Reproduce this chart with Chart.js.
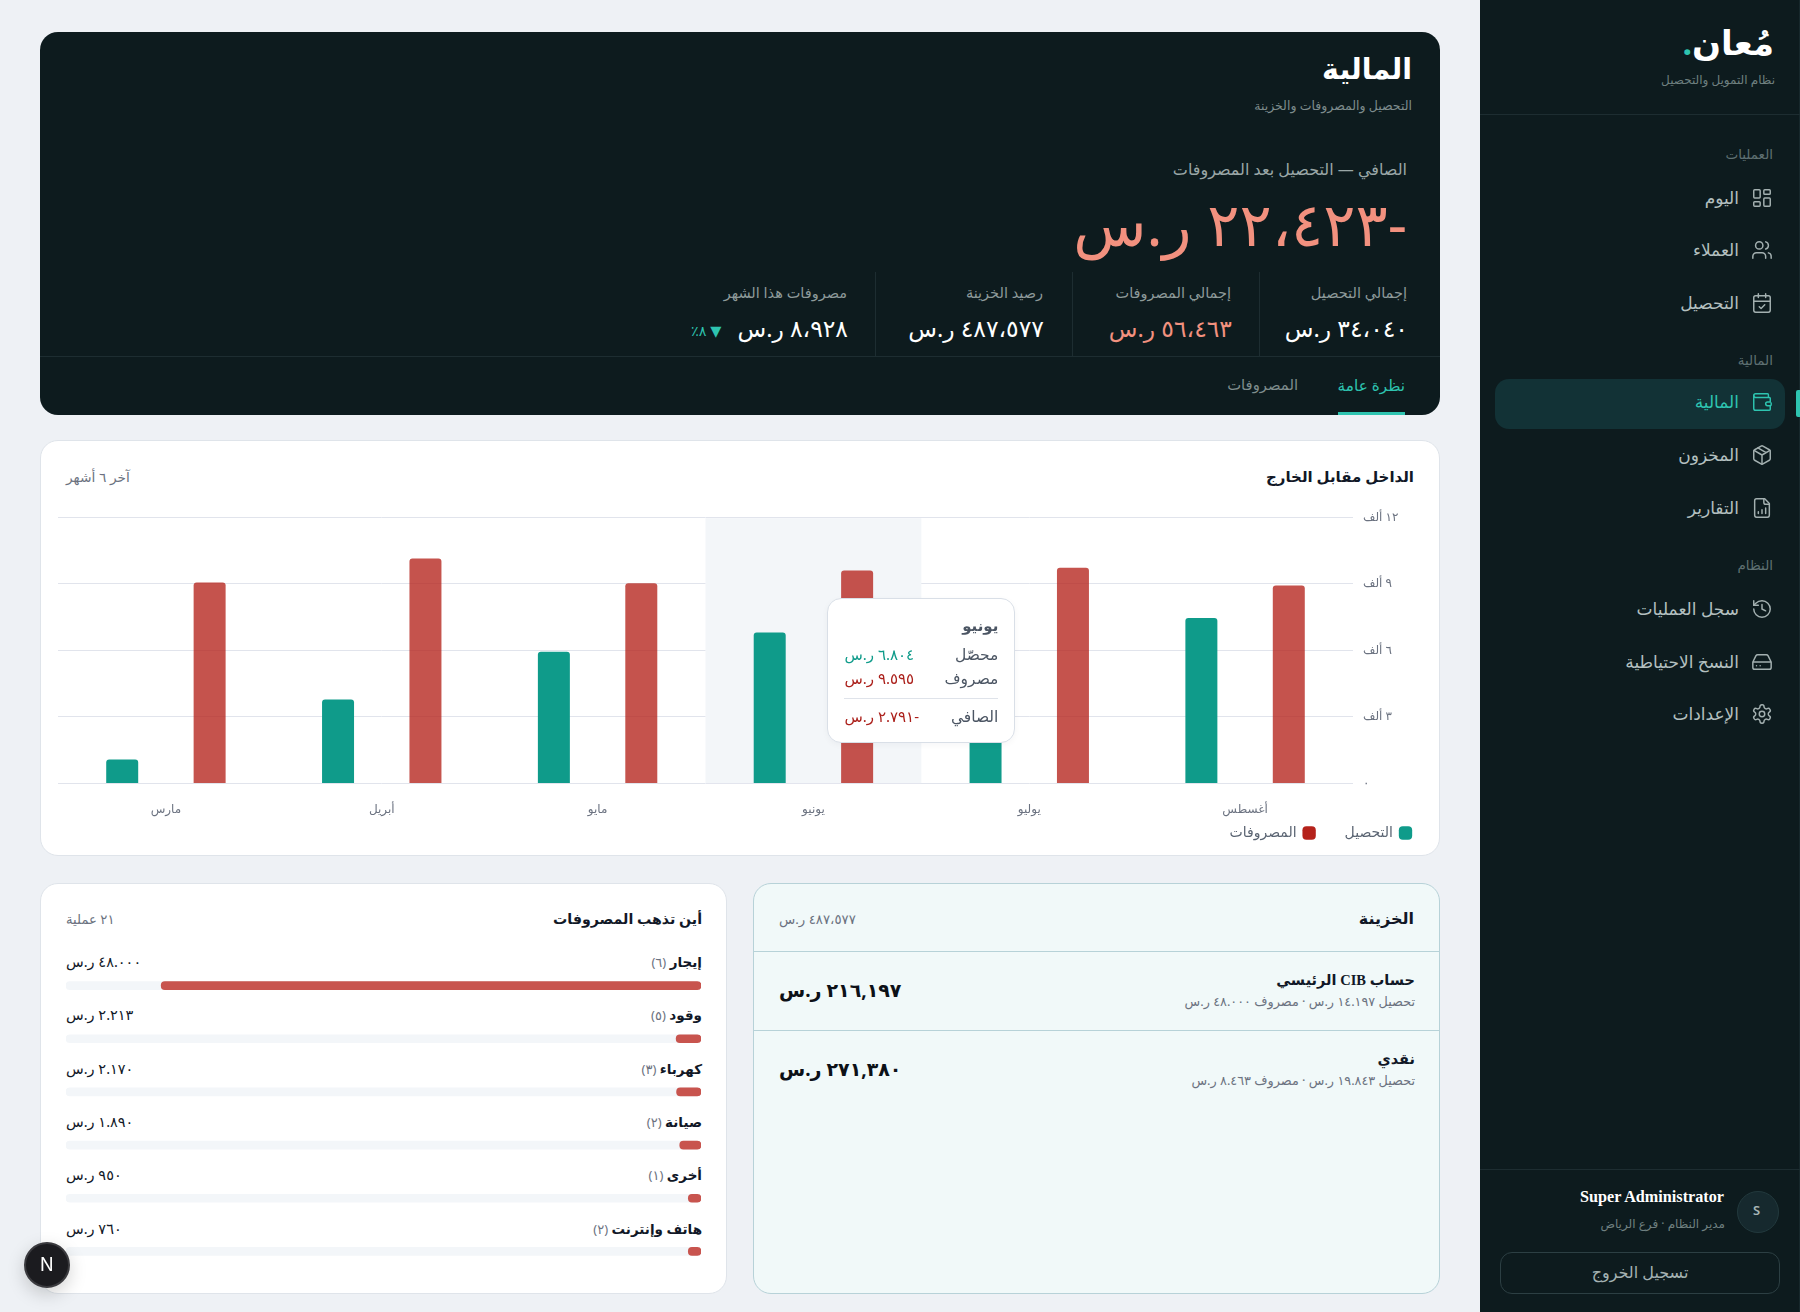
<!DOCTYPE html>
<html lang="ar" dir="rtl">
<head>
<meta charset="utf-8">
<title>المالية</title>
<script src="https://cdn.jsdelivr.net/npm/chart.js@4/dist/chart.umd.min.js"></script>
<style>
  html, body { margin: 0; padding: 0; }
  body { width: 1800px; height: 1312px; overflow: hidden; position: relative; background: #eef1f5; font-family: "Noto Sans", "DejaVu Sans", sans-serif; color: #111827; }
  .t { position: absolute; white-space: nowrap; transform: translateY(-50%); line-height: 1.2; }
  .box { position: absolute; box-sizing: border-box; }
  .sidebar { left: 1480px; top: 0; width: 320px; height: 1312px; background: #0d1b1e; border-right: 1px solid #17282c; }
  .hero { left: 40px; top: 32px; width: 1400px; height: 383px; background: #0d1b1e; border-radius: 18px; }
  .card { background: #fff; border: 1px solid #dfe4ea; border-radius: 18px; }
  .treasury { background: #f1f9f9; border: 1px solid #b7d2d8; border-radius: 18px; }
  .line { position: absolute; background: #1d2d31; }
  .sec { font-size: 13.5px; color: #5f7072; }
  .nav { font-size: 17px; color: #b4c0c0; }
  .ico { position: absolute; width: 22px; height: 22px; transform: translate(-50%, -50%); fill: none; stroke: #a3b0b0; stroke-width: 1.6; stroke-linecap: round; stroke-linejoin: round; }
  .lbl { font-size: 14.5px; color: #8d9a9a; }
  .val { font-size: 23.5px; color: #fff; }
  #tip { position: absolute; box-sizing: border-box; width: 188px; height: 145px; background: #fff; border: 1px solid #d9dfe7; border-radius: 14px; box-shadow: 0 2px 6px rgba(15, 23, 42, .04); z-index: 5; }
  #tip span { position: absolute; white-space: nowrap; transform: translateY(-50%); line-height: 1.2; }
  #tip i { position: absolute; left: 16px; right: 16px; top: 99px; height: 1px; background: #dfe3ea; }
  .rowName { font-size: 13.5px; font-weight: 600; color: #111827; }
  .rowName small { font-size: 13px; font-weight: 400; color: #6b7280; }
  .rowVal { font-size: 14.5px; color: #111827; }
</style>
</head>
<body>

<div class="box sidebar"></div>
<div class="t" style="right:26px;top:42px;font-size:34px;font-weight:700;color:#fff">مُعان<span style="color:#2ec4b0">.</span></div>
<div class="t" style="right:25px;top:80px;font-size:12px;color:#6f8080">نظام التمويل والتحصيل</div>
<div class="line" style="left:1480px;top:114px;width:320px;height:1px"></div>

<div class="t sec" style="right:27px;top:154px">العمليات</div>
<div class="t sec" style="right:27px;top:360px">المالية</div>
<div class="t sec" style="right:27px;top:565px">النظام</div>

<div class="box" style="left:1495px;top:379px;width:290px;height:50px;background:#123236;border-radius:14px"></div>
<div class="box" style="left:1796px;top:390px;width:4px;height:27px;background:#2ec4b0;border-radius:2px 0 0 2px"></div>

<div class="t nav" style="right:61px;top:198px">اليوم</div>
<div class="t nav" style="right:61px;top:250px">العملاء</div>
<div class="t nav" style="right:61px;top:303px">التحصيل</div>
<div class="t nav" style="right:61px;top:402px;color:#2ec4b0">المالية</div>
<div class="t nav" style="right:61px;top:455px">المخزون</div>
<div class="t nav" style="right:61px;top:508px">التقارير</div>
<div class="t nav" style="right:61px;top:609px">سجل العمليات</div>
<div class="t nav" style="right:61px;top:662px">النسخ الاحتياطية</div>
<div class="t nav" style="right:61px;top:714px">الإعدادات</div>

<svg class="ico" style="left:1762px;top:198px" viewBox="0 0 24 24"><rect x="3" y="3" width="7" height="9" rx="1"/><rect x="14" y="3" width="7" height="5" rx="1"/><rect x="14" y="12" width="7" height="9" rx="1"/><rect x="3" y="16" width="7" height="5" rx="1"/></svg>
<svg class="ico" style="left:1762px;top:250px" viewBox="0 0 24 24"><path d="M16 21v-2a4 4 0 0 0-4-4H6a4 4 0 0 0-4 4v2"/><circle cx="9" cy="7" r="4"/><path d="M22 21v-2a4 4 0 0 0-3-3.87"/><path d="M16 3.13a4 4 0 0 1 0 7.75"/></svg>
<svg class="ico" style="left:1762px;top:303px" viewBox="0 0 24 24"><rect x="3" y="4" width="18" height="18" rx="2"/><path d="M16 2v4M8 2v4M3 10h18M9 16l2 2 4-4"/></svg>
<svg class="ico" style="left:1762px;top:402px;stroke:#2ec4b0" viewBox="0 0 24 24"><path d="M19 7V4a1 1 0 0 0-1-1H5a2 2 0 0 0 0 4h15a1 1 0 0 1 1 1v4h-3a2 2 0 0 0 0 4h3a1 1 0 0 0 1-1v-2"/><path d="M3 5v14a2 2 0 0 0 2 2h15a1 1 0 0 0 1-1v-4"/></svg>
<svg class="ico" style="left:1762px;top:455px" viewBox="0 0 24 24"><path d="M21 8a2 2 0 0 0-1-1.73l-7-4a2 2 0 0 0-2 0l-7 4A2 2 0 0 0 3 8v8a2 2 0 0 0 1 1.73l7 4a2 2 0 0 0 2 0l7-4A2 2 0 0 0 21 16Z"/><path d="m3.3 7 8.7 5 8.7-5M12 22V12M7.5 4.27l9 5.15"/></svg>
<svg class="ico" style="left:1762px;top:508px" viewBox="0 0 24 24"><path d="M15 2H6a2 2 0 0 0-2 2v16a2 2 0 0 0 2 2h12a2 2 0 0 0 2-2V7Z"/><path d="M14 2v4a2 2 0 0 0 2 2h4M8 18v-2M12 18v-4M16 18v-6"/></svg>
<svg class="ico" style="left:1762px;top:609px" viewBox="0 0 24 24"><path d="M3 12a9 9 0 1 0 9-9 9.75 9.75 0 0 0-6.74 2.74L3 8"/><path d="M3 3v5h5M12 7v5l4 2"/></svg>
<svg class="ico" style="left:1762px;top:662px" viewBox="0 0 24 24"><path d="M22 12H2M5.45 5.11 2 12v6a2 2 0 0 0 2 2h16a2 2 0 0 0 2-2v-6l-3.45-6.89A2 2 0 0 0 16.76 4H7.24a2 2 0 0 0-1.79 1.11ZM6 16h.01M10 16h.01"/></svg>
<svg class="ico" style="left:1762px;top:714px" viewBox="0 0 24 24"><path d="M12.22 2h-.44a2 2 0 0 0-2 2v.18a2 2 0 0 1-1 1.73l-.43.25a2 2 0 0 1-2 0l-.15-.08a2 2 0 0 0-2.73.73l-.22.38a2 2 0 0 0 .73 2.73l.15.1a2 2 0 0 1 1 1.72v.51a2 2 0 0 1-1 1.74l-.15.09a2 2 0 0 0-.73 2.73l.22.38a2 2 0 0 0 2.73.73l.15-.08a2 2 0 0 1 2 0l.43.25a2 2 0 0 1 1 1.73V20a2 2 0 0 0 2 2h.44a2 2 0 0 0 2-2v-.18a2 2 0 0 1 1-1.73l.43-.25a2 2 0 0 1 2 0l.15.08a2 2 0 0 0 2.73-.73l.22-.39a2 2 0 0 0-.73-2.73l-.15-.08a2 2 0 0 1-1-1.74v-.5a2 2 0 0 1 1-1.74l.15-.09a2 2 0 0 0 .73-2.73l-.22-.38a2 2 0 0 0-2.73-.73l-.15.08a2 2 0 0 1-2 0l-.43-.25a2 2 0 0 1-1-1.73V4a2 2 0 0 0-2-2z"/><circle cx="12" cy="12" r="3"/></svg>

<div class="line" style="left:1480px;top:1169px;width:320px;height:1px"></div>
<div class="t" style="right:76px;top:1198px;font-family:'Liberation Serif',serif;font-size:16.2px;font-weight:700;color:#fff">Super Administrator</div>
<div class="t" style="right:75px;top:1224px;font-size:12px;color:#6f8080">مدير النظام · فرع الرياض</div>
<div class="box" style="left:1737px;top:1191px;width:42px;height:42px;border-radius:50%;background:#16292e;border:1px solid #22393d"></div>
<div class="t" style="left:1753px;top:1211px;font-size:13px;font-weight:600;color:#a7b6b6">S</div>
<div class="box" style="left:1500px;top:1252px;width:280px;height:42px;border:1px solid #2c3f43;border-radius:12px"></div>
<div class="t" style="left:1580px;top:1273px;width:120px;text-align:center;font-size:16px;color:#a4b2b2">تسجيل الخروج</div>

<div class="box hero"></div>
<div class="t" style="right:388px;top:68px;font-size:28.5px;font-weight:700;color:#fff">المالية</div>
<div class="t" style="right:388px;top:105px;font-size:12.5px;color:#7d8b8c">التحصيل والمصروفات والخزينة</div>
<div class="t" style="right:393px;top:170px;font-size:16px;color:#9aa7a7">الصافي — التحصيل بعد المصروفات</div>
<div class="t" id="netBig" style="right:393px;top:223px;font-size:60px;color:#f2917f"></div>

<div class="line" style="left:1259px;top:272px;width:1px;height:84px"></div>
<div class="line" style="left:1072px;top:272px;width:1px;height:84px"></div>
<div class="line" style="left:875px;top:272px;width:1px;height:84px"></div>
<div class="line" style="left:40px;top:356px;width:1400px;height:1px"></div>

<div class="t lbl" style="right:393px;top:293px">إجمالي التحصيل</div>
<div class="t lbl" style="right:569px;top:293px">إجمالي المصروفات</div>
<div class="t lbl" style="right:757px;top:293px">رصيد الخزينة</div>
<div class="t lbl" style="right:953px;top:293px">مصروفات هذا الشهر</div>
<div class="t val" style="right:392px;top:328px">٣٤،٠٤٠ ر.س</div>
<div class="t val" style="right:568px;top:328px;color:#f2917f">٥٦،٤٦٣ ر.س</div>
<div class="t val" style="right:756px;top:328px">٤٨٧،٥٧٧ ر.س</div>
<div class="t val" style="right:952px;top:328px">٨،٩٢٨ ر.س</div>
<div class="t" style="left:691px;top:331px;font-size:14.5px;color:#2ec4b0">▼ ٨٪</div>

<div class="t" style="right:395px;top:385px;font-size:15.3px;color:#2ec4b0">نظرة عامة</div>
<div class="t" style="right:502px;top:385px;font-size:14.8px;color:#7f8d8d">المصروفات</div>
<div class="box" style="left:1338px;top:412px;width:67px;height:3px;background:#2ec4b0"></div>

<div class="box card" style="left:40px;top:440px;width:1400px;height:416px"></div>
<div class="t" style="right:386px;top:476px;font-size:15px;font-weight:700;color:#111827">الداخل مقابل الخارج</div>
<div class="t" style="left:66px;top:477px;font-size:13.8px;color:#6b7280">آخر ٦ أشهر</div>
<div class="box" style="left:58px;top:500px;width:1362px;height:350px"><canvas id="flowChart"></canvas></div>
<div id="tip"></div>

<div class="box card" style="left:40px;top:883px;width:687px;height:411px"></div>
<div class="t" style="right:1098px;top:919px;font-size:14.2px;font-weight:700;color:#111827">أين تذهب المصروفات</div>
<div class="t" style="left:66px;top:920px;font-size:13.2px;color:#6b7280">٢١ عملية</div>
<div id="expenseRows"></div>
<div class="box" style="left:66px;top:958.5px;width:635px;height:319px"><canvas id="expenseChart"></canvas></div>

<div class="box treasury" style="left:753px;top:883px;width:687px;height:411px"></div>
<div class="t" style="right:386px;top:919px;font-size:16px;font-weight:700;color:#111827">الخزينة</div>
<div class="t" style="left:779px;top:920px;font-size:13.3px;color:#6b7280">٤٨٧،٥٧٧ ر.س</div>
<div class="line" style="left:753px;top:951px;width:687px;height:1px;background:#b7d2d8"></div>
<div class="line" style="left:753px;top:1030px;width:687px;height:1px;background:#b7d2d8"></div>
<div class="t" style="right:385px;top:980px;font-size:14.5px;font-weight:700;color:#111827">حساب <span style="font-family:'Liberation Serif',serif">CIB</span> الرئيسي</div>
<div class="t" style="right:385px;top:1002px;font-size:12.8px;color:#6b7280">تحصيل ١٤.١٩٧ ر.س · مصروف ٤٨.٠٠٠ ر.س</div>
<div class="t" style="left:779px;top:990px;font-size:19px;font-weight:700;color:#0d1117">٢١٦,١٩٧ ر.س</div>
<div class="t" style="right:385px;top:1059px;font-size:14.5px;font-weight:700;color:#111827">نقدي</div>
<div class="t" style="right:385px;top:1081px;font-size:12.8px;color:#6b7280">تحصيل ١٩.٨٤٣ ر.س · مصروف ٨.٤٦٣ ر.س</div>
<div class="t" style="left:779px;top:1069px;font-size:19px;font-weight:700;color:#0d1117">٢٧١,٣٨٠ ر.س</div>

<div class="box" style="left:24px;top:1242px;width:46px;height:46px;border-radius:50%;background:#1b1b1f;border:2px solid #3a3a3e;box-shadow:0 6px 18px rgba(0,0,0,.18);z-index:6"></div>
<div class="t" style="left:40px;top:1265px;font-family:Inter,sans-serif;font-size:18px;font-weight:400;color:#fff;z-index:7" dir="ltr">N</div>

<script>
// --- data ---
const months = ['مارس', 'أبريل', 'مايو', 'يونيو', 'يوليو', 'أغسطس'];
const collected = [1080, 3790, 5940, 6804, 8000, 7460]; // يوليو top is hidden behind the tooltip
const spent = [9060, 10140, 9020, 9595, 9720, 8928];
const yTickLabels = ['٠', '٣ ألف', '٦ ألف', '٩ ألف', '١٢ ألف'];
const activeMonth = 3;

const expenseNames = ['إيجار', 'وقود', 'كهرباء', 'صيانة', 'أخرى', 'هاتف وإنترنت'];
const expenseCounts = [6, 5, 3, 2, 1, 2];
const expenseAmounts = [48000, 2213, 2170, 1890, 950, 760];
const expenseTotal = 56463;
const expenseMinBar = 1130; // small rows keep a minimum visible length

const fontFamily = '"Noto Sans", "DejaVu Sans", sans-serif';
// the picture shows the thousands mark as a low dot
const fmt = v => v.toLocaleString('ar-EG').replace('٬', '.');

document.getElementById('netBig').textContent = '-٢٢،٤٢٣ ر.س';

// --- expense rows text ---
const rowsEl = document.getElementById('expenseRows');
expenseNames.forEach((name, i) => {
  const y = 962 + i * 53.3;
  rowsEl.innerHTML +=
    `<div class="t rowName" style="right:1098px;top:${y}px">${name} <small>(${fmt(expenseCounts[i])})</small></div>` +
    `<div class="t rowVal" style="left:66px;top:${y}px">${fmt(expenseAmounts[i])} ر.س</div>`;
});

// --- June band behind the bars ---
const bandPlugin = {
  id: 'band',
  beforeDatasetsDraw(chart) {
    const { ctx, chartArea, scales } = chart;
    const w = scales.x.getPixelForValue(1) - scales.x.getPixelForValue(0);
    const x = scales.x.getPixelForValue(activeMonth) - w / 2;
    ctx.save();
    ctx.fillStyle = '#f3f6f9';
    ctx.fillRect(x, chartArea.top + 1, w, chartArea.height - 1.5);
    ctx.restore();
  }
};

function renderTip(context) {
  const chart = context.chart;
  const tip = document.getElementById('tip');
  const box = chart.canvas.parentNode;
  const net = collected[activeMonth] - spent[activeMonth];
  tip.style.left = box.offsetLeft + chart.scales.x.getPixelForValue(activeMonth) + 14 + 'px';
  tip.style.top = box.offsetTop + chart.chartArea.top + 81 + 'px';
  const money = v => (v < 0 ? '-' + fmt(-v) : fmt(v)) + ' ر.س';
  tip.innerHTML =
    `<span style="right:16px;top:26px;font-size:15px;font-weight:600;color:#4b5563">${months[activeMonth]}</span>` +
    `<span style="right:16px;top:55px;font-size:15.5px;color:#4b5563">محصّل</span>` +
    `<span style="left:16px;top:55px;font-size:15px;color:#0f9b8a">${money(collected[activeMonth])}</span>` +
    `<span style="right:16px;top:79px;font-size:15.5px;color:#4b5563">مصروف</span>` +
    `<span style="left:16px;top:79px;font-size:15px;color:#ab1f1a">${money(spent[activeMonth])}</span>` +
    `<i></i>` +
    `<span style="right:16px;top:117px;font-size:15.5px;color:#4b5563">الصافي</span>` +
    `<span style="left:16px;top:117px;font-size:15px;color:#ab1f1a">${money(net)}</span>`;
}

const flowChart = new Chart(document.getElementById('flowChart'), {
  type: 'bar',
  data: {
    labels: months,
    datasets: [
      { label: 'التحصيل', data: collected, backgroundColor: '#0f9b8a', legendColor: '#0f9b8a' },
      { label: 'المصروفات', data: spent, backgroundColor: 'rgba(181, 34, 27, .78)', legendColor: '#b5221b' }
    ]
  },
  options: {
    responsive: true,
    maintainAspectRatio: false,
    animation: false,
    layout: { padding: { top: 9.5 } },
    datasets: {
      bar: { categoryPercentage: 0.81, barPercentage: 0.366, borderRadius: { topLeft: 3, topRight: 3 }, borderSkipped: 'bottom' }
    },
    scales: {
      x: {
        grid: { display: false },
        border: { display: false },
        ticks: { padding: 11, color: '#6b7280', font: { family: fontFamily, size: 12 }, maxRotation: 0 },
        afterFit(axis) { axis.height = 33.4; }
      },
      y: {
        position: 'right',
        min: 0,
        max: 12000,
        grid: { color: '#e1e4ec', drawTicks: false },
        border: { display: false },
        ticks: {
          stepSize: 3000,
          padding: 10,
          color: '#6b7280',
          font: { family: fontFamily, size: 12 },
          callback: (v, i) => yTickLabels[i]
        },
        afterFit(axis) { axis.width = 67; }
      }
    },
    plugins: {
      legend: {
        position: 'bottom',
        align: 'start',
        rtl: true,
        textDirection: 'rtl',
        labels: {
          usePointStyle: true,
          pointStyle: 'rectRounded',
          boxWidth: 11,
          boxHeight: 11,
          padding: 9,
          color: '#5a6472',
          font: { family: fontFamily, size: 14 },
          generateLabels: chart => chart.data.datasets.map((d, i) => ({
            text: d.label + (i === 0 ? '\u2003\u2002' : ''), fillStyle: d.legendColor, strokeStyle: d.legendColor, lineWidth: 0,
            pointStyle: 'rectRounded', fontColor: '#5a6472', datasetIndex: i
          }))
        }
      },
      tooltip: { enabled: false, mode: 'index', external: renderTip }
    }
  },
  plugins: [bandPlugin]
});

// keep the June hover state showing
flowChart.tooltip.setActiveElements(
  [{ datasetIndex: 0, index: activeMonth }, { datasetIndex: 1, index: activeMonth }],
  { x: 0, y: 0 }
);
flowChart.update();

new Chart(document.getElementById('expenseChart'), {
  type: 'bar',
  data: {
    labels: expenseNames,
    datasets: [
      { data: expenseAmounts.map(v => Math.max(v, expenseMinBar)), backgroundColor: '#c8544e', order: 0 },
      { data: expenseNames.map(() => expenseTotal), backgroundColor: '#f3f6f9', order: 1 }
    ]
  },
  options: {
    indexAxis: 'y',
    responsive: true,
    maintainAspectRatio: false,
    animation: false,
    datasets: { bar: { grouped: false, barThickness: 8, borderRadius: 4, borderSkipped: false } },
    scales: {
      x: { display: false, reverse: true, min: 0, max: expenseTotal },
      y: { display: false }
    },
    plugins: { legend: { display: false }, tooltip: { enabled: false } }
  }
});
</script>
</body>
</html>
